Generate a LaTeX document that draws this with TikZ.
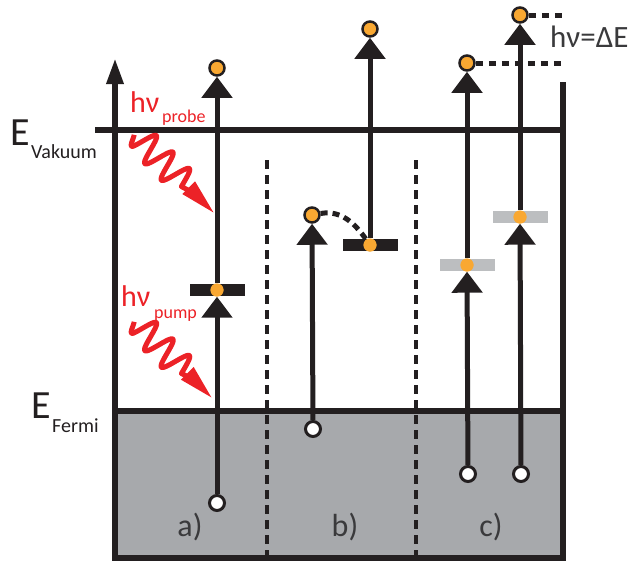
\documentclass[tikz,border=0pt]{standalone}
\usepackage{fontspec}
\setmainfont{Carlito}
\usetikzlibrary{arrows.meta}
\definecolor{ink}{HTML}{231F20}
\definecolor{fermigray}{HTML}{A7A9AC}
\definecolor{bargray}{HTML}{BCBEC0}
\definecolor{orng}{HTML}{F9A832}
\definecolor{photred}{HTML}{EC2227}
\definecolor{txtgray}{HTML}{3A3A3C}
\begin{document}
\begin{tikzpicture}[x=1pt,y=-1pt,
  wall/.style={line width=6pt, draw=ink},
  divider/.style={line width=4.5pt, draw=ink, dash pattern=on 9pt off 6pt},
  trans/.style={line width=5pt, draw=ink, -{Triangle[width=30pt,length=21pt]}},
  elec/.style={circle, draw=ink, line width=2.5pt, fill=orng, minimum size=15pt, inner sep=0pt},
  dotc/.style={circle, fill=orng, minimum size=13pt, inner sep=0pt},
  hole/.style={circle, draw=ink, line width=3pt, fill=white, minimum size=15pt, inner sep=0pt},
  blackbar/.style={fill=ink, draw=none, minimum width=55pt, minimum height=12pt, inner sep=0pt},
  graybar/.style={fill=bargray, draw=none, minimum width=55pt, minimum height=12pt, inner sep=0pt},
  levdash/.style={line width=5pt, draw=ink, dash pattern=on 7pt off 6pt},
  photon/.style={line width=5pt, draw=photred, line join=round},
  bigE/.style={font=\fontsize{40}{40}\selectfont, text=ink, inner sep=0pt},
  subE/.style={font=\fontsize{20}{20}\selectfont, text=ink, inner sep=0pt},
  hnu/.style={font=\fontsize{30}{30}\selectfont, text=photred, inner sep=0pt},
  subhnu/.style={font=\fontsize{18}{18}\selectfont, text=photred, inner sep=0pt},
  panel/.style={font=\fontsize{32}{32}\selectfont, text=txtgray, inner sep=0pt},
]
\useasboundingbox (0,0) rectangle (638,563);

% Fermi sea
\fill[fermigray] (115,411) rectangle (563,558);

% dividers
\draw[divider] (267,160) -- (267,558);
\draw[divider] (416,160) -- (416,558);

% levels
\draw[wall] (95,130) -- (563,130);
\draw[wall] (115,411) -- (563,411);

% frame with energy axis
\coordinate (rtop) at (563,82);
\coordinate (axtip) at (115,58);
\draw[wall, line join=miter, -{Triangle[width=16pt,length=26pt]}] (rtop) -- (563,558) -- (115,558) -- (axtip);

% labels
\node[bigE, anchor=base west] (ev) at (10,145) {E};
\node[subE, anchor=base west] (evs) at (31,158) {Vakuum};
\node[bigE, anchor=base west] (ef) at (31,418) {E};
\node[subE, anchor=base west] (efs) at (52,432) {Fermi};

% photons
\node[hnu, anchor=base west] (hp) at (130,112) {hν};
\node[subhnu, anchor=base west] (hps) at (162,122) {probe};
\node[hnu, anchor=base west] (hq) at (121,306) {hν};
\node[subhnu, anchor=base west] (hqs) at (154,318) {pump};

\coordinate (probeS) at (135,134);
\begin{scope}[shift={(probeS)}, rotate=-45]
  \draw[photon] plot[domain=0:70, samples=110, smooth] (\x, {min(1,\x/10+0.25)*14*sin(\x*15.4+20)}) -- (84,0);
  \fill[photred] (76,-9) -- (111,0) -- (76,9) -- cycle;
\end{scope}
\coordinate (pumpS) at (135,321);
\begin{scope}[shift={(pumpS)}, rotate=-45]
  \draw[photon] plot[domain=0:70, samples=110, smooth] (\x, {min(1,\x/10+0.25)*14*sin(\x*15.4+20)}) -- (82,0);
  \fill[photred] (74,-9) -- (108,0) -- (74,9) -- cycle;
\end{scope}

% ---- panel a)
\node[blackbar] (abar) at (217,290) {};
\node[hole] (ahole) at (217,503) {};
\node[dotc] (adot) at (217,290) {};
\node[elec] (atop) at (217,68) {};
\draw[trans] (ahole) -- (adot);
\draw[trans] (adot) -- (atop);
\node[dotc] at (adot) {};

% ---- panel b)
\node[blackbar] (bbar) at (370,245) {};
\node[hole] (bhole) at (313,429) {};
\node[elec] (bmid) at (312,215) {};
\node[dotc] (bdot) at (370,245) {};
\node[elec] (btop) at (370,29) {};
\draw[trans] (bhole) -- (bmid);
\draw[trans] (bdot) -- (btop);
\draw[levdash, dash pattern=on 7pt off 5pt] (bmid) to[out=10, in=125] (bdot);
\node[dotc] at (bdot) {};

% ---- panel c)
\node[graybar] (cbar1) at (467,265) {};
\node[graybar] (cbar2) at (520,217) {};
\node[hole] (chole1) at (468,474) {};
\node[hole] (chole2) at (521,474) {};
\node[dotc] (cdot1) at (467,265) {};
\node[dotc] (cdot2) at (520,217) {};
\node[elec] (ctop1) at (467,63) {};
\node[elec] (ctop2) at (520,15) {};
\draw[trans] (chole1) -- (cdot1);
\draw[trans] (cdot1) -- (ctop1);
\draw[trans] (chole2) -- (cdot2);
\draw[trans] (cdot2) -- (ctop2);
\node[dotc] at (cdot1) {};
\node[dotc] at (cdot2) {};
\coordinate (d1) at (563,63);
\coordinate (d2) at (563,15);
\draw[levdash] (ctop1) -- (d1);
\draw[levdash] (ctop2) -- (d2);
\node[font=\fontsize{31}{31}\selectfont, text=txtgray, inner sep=0pt, anchor=base west] (dE) at (550,47) {hν=ΔE};

% panel labels
\node[panel] (la) at (190,527) {a)};
\node[panel] (lb) at (345,527) {b)};
\node[panel] (lc) at (491,527) {c)};
\end{tikzpicture}
\end{document}
